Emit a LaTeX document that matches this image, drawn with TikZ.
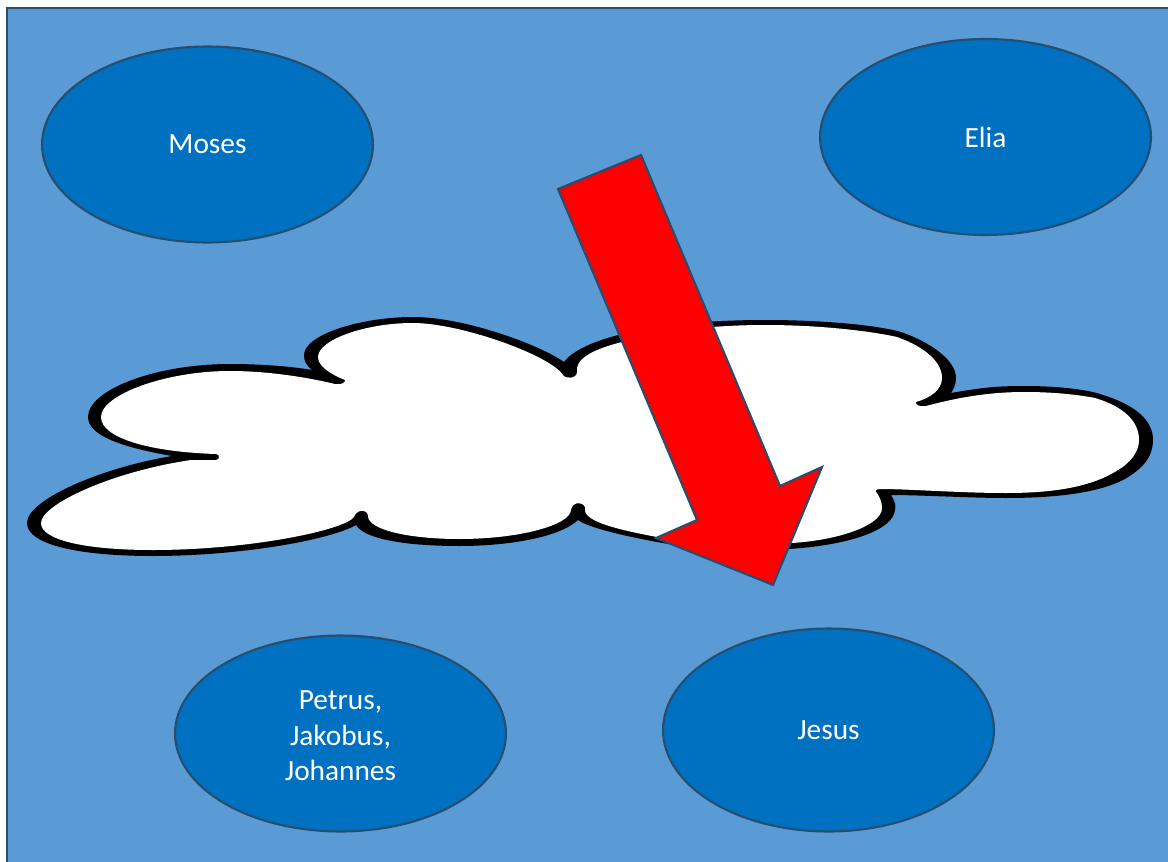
\documentclass[tikz,border=0pt]{standalone}
\usepackage{fontspec}
\setmainfont{Carlito}
\usetikzlibrary{shapes.geometric}
\definecolor{skyblue}{HTML}{5B9BD5}
\definecolor{deepblue}{HTML}{0070C0}
\definecolor{edgeblue}{HTML}{264E70}
\tikzstyle{bubble} = [ellipse,draw=edgeblue,line width=1.2pt,fill=deepblue,text=white,inner sep=0mm,minimum width=6.62cm,minimum height=3.92cm,align=center,font=\fontsize{16.7}{20.2}\selectfont]
\begin{document}
\begin{tikzpicture}[x=0.02cm,y=-0.02cm]
        \useasboundingbox (0,0) rectangle (1168,861);
        \clip (0,0) rectangle (1168,861);
        \draw[edgeblue,line width=1.2pt,fill=skyblue] (7,8) rectangle (1180,875);

        \node[bubble] (moses) at (207.5,144.5) {Moses};
        \node[bubble] (elia) at (985.5,137) {Elia};
        \node[bubble] (disciples) at (340.5,733.5) {\rule{0pt}{13.5pt}Petrus,\\Jakobus,\\Johannes};
        \node[bubble,minimum height=4.06cm] (jesus) at (828.5,730) {Jesus};

        % cloud, black outside and white inside
        \fill[black] (172,456) .. controls (120,447) and (88,435) .. (88,417)
            .. controls (88,390) and (155,364) .. (230,364)
            .. controls (265,364) and (295,367) .. (312,370)
            .. controls (306,365) and (304,361) .. (304,355)
            .. controls (304,335) and (360,317) .. (413,317)
            .. controls (465,317) and (540,345) .. (564,362)
            .. controls (580,340) and (650,320) .. (765,320)
            .. controls (830,320) and (880,326) .. (901,332)
            .. controls (930,342) and (956,360) .. (956,378)
            .. controls (956,385) and (953,390) .. (951,393)
            .. controls (985,387) and (1000,386) .. (1025,386)
            .. controls (1060,386) and (1090,390) .. (1103,395)
            .. controls (1135,405) and (1153,420) .. (1153,440)
            .. controls (1153,455) and (1145,465) .. (1134,473)
            .. controls (1110,492) and (1060,498) .. (1006,498)
            .. controls (970,498) and (920,495) .. (891,495)
            .. controls (895,502) and (896,505) .. (895,510)
            .. controls (893,530) and (850,545) .. (789,549)
            .. controls (745,552) and (700,550) .. (657,542)
            .. controls (620,535) and (590,528) .. (578,520)
            .. controls (560,537) and (510,546) .. (459,546)
            .. controls (410,546) and (365,540) .. (356,525)
            .. controls (330,540) and (240,556) .. (153,556)
            .. controls (80,556) and (27,545) .. (27,523)
            .. controls (27,500) and (100,468) .. (172,456) -- cycle;
        \fill[white] (216,454) .. controls (150,452) and (101,438) .. (101,417)
            .. controls (101,395) and (165,371) .. (230,371)
            .. controls (270,371) and (310,378) .. (335,384)
            .. controls (340,385) and (346,383) .. (345,380)
            .. controls (330,374) and (318,366) .. (318,357)
            .. controls (318,340) and (365,323) .. (413,323)
            .. controls (460,323) and (550,355) .. (563,375)
            .. controls (565,379) and (577,379) .. (577,372)
            .. controls (575,360) and (590,350) .. (622,342)
            .. controls (650,332) and (710,325) .. (765,325)
            .. controls (820,325) and (870,331) .. (897,337)
            .. controls (925,347) and (942,362) .. (942,378)
            .. controls (942,390) and (930,398) .. (916,402)
            .. controls (915,405) and (920,407) .. (926,406)
            .. controls (960,397) and (990,392) .. (1025,392)
            .. controls (1055,392) and (1080,395) .. (1095,398)
            .. controls (1125,407) and (1139,422) .. (1139,440)
            .. controls (1139,452) and (1130,463) .. (1118,470)
            .. controls (1090,488) and (1050,493) .. (1006,493)
            .. controls (960,493) and (910,489) .. (880,489)
            .. controls (876,489) and (874,491) .. (877,493)
            .. controls (880,498) and (882,502) .. (882,508)
            .. controls (882,525) and (840,540) .. (792,543)
            .. controls (750,546) and (700,546) .. (657,537)
            .. controls (620,530) and (585,522) .. (585,510)
            .. controls (587,502) and (572,500) .. (571,510)
            .. controls (570,525) and (520,539) .. (459,539)
            .. controls (410,539) and (368,530) .. (368,516)
            .. controls (368,509) and (356,509) .. (354,517)
            .. controls (345,530) and (250,550) .. (153,550)
            .. controls (85,550) and (41,540) .. (41,523)
            .. controls (41,505) and (110,472) .. (191,460)
            -- (216,460) .. controls (220,460) and (220,454) .. (216,454) -- cycle;

        \draw[edgeblue,line width=1.2pt,fill=red,line join=miter] (641,155) -- (558,189) -- (697,520) -- (656,538) -- (773,585) -- (822,467) -- (780,486) -- cycle;
\end{tikzpicture}
\end{document}
